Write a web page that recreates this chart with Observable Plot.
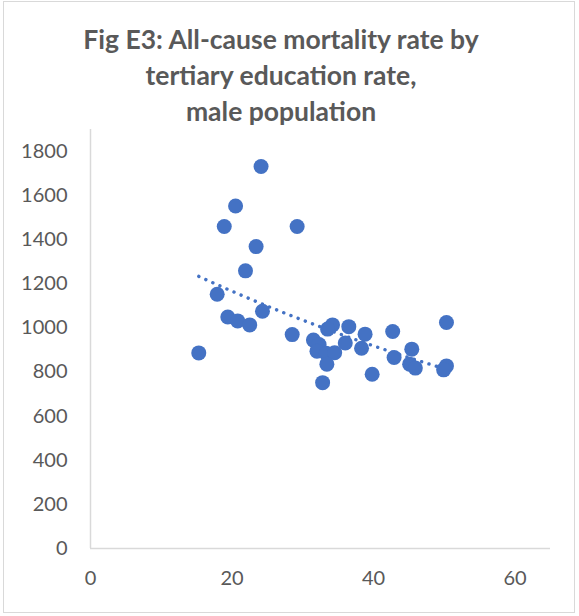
<!DOCTYPE html>
<html>
<head>
<meta charset="utf-8">
<script src="https://cdn.jsdelivr.net/npm/d3@7"></script>
<script src="https://cdn.jsdelivr.net/npm/@observablehq/plot@0.6"></script>
<style>
  html, body { margin: 0; padding: 0; background: #fff; }
  #wrap { position: relative; width: 579px; height: 616px; overflow: hidden; font-family: Lato, "Open Sans", sans-serif; }
  #frame { position: absolute; left: 3px; top: 1px; width: 572px; height: 612px; border: 1px solid #d9d9d9; box-sizing: border-box; pointer-events: none; }
  #title { position: absolute; left: 0; top: 21px; width: 562px; text-align: center; color: #595959; font-weight: 700; font-size: 26.5px; line-height: 36px; }
  #chart { position: absolute; left: 0; top: 0; }
</style>
</head>
<body>
<div id="wrap">
  <div id="chart"></div>
  <div id="title">Fig E3: All-cause mortality rate by<br>tertiary education rate,<br>male population</div>
  <div id="frame"></div>
</div>
<script>
// Tertiary education rate (%), male population
const educationRate = [15.3, 17.9, 18.9, 19.4, 20.5, 20.8, 21.9, 22.5, 23.4, 24.1, 24.3, 28.5, 29.2,
  31.5, 32.3, 32.0, 33.3, 34.5, 33.4, 32.8, 34.2, 33.5, 36.0, 36.5, 38.8, 38.3, 39.8,
  42.7, 42.9, 45.4, 45.1, 45.9, 50.3, 50.3, 49.9];
// All-cause mortality rate
const mortalityRate = [887, 1153, 1460, 1050, 1553, 1032, 1259, 1014, 1369, 1732, 1076, 970, 1460,
  945, 925, 895, 885, 888, 836, 752, 1014, 995, 932, 1006, 972, 908, 790,
  984, 866, 904, 836, 818, 1025, 828, 810];
const xTicks = [0, 20, 40, 60];
const yTicks = [0, 200, 400, 600, 800, 1000, 1200, 1400, 1600, 1800];

const points = educationRate.map((x, i) => ({x, y: mortalityRate[i]}));

// Exponential trendline (least squares on ln y), as Excel draws it
const mx = d3.mean(points, d => d.x);
const my = d3.mean(points, d => Math.log(d.y));
const b = d3.sum(points, d => (d.x - mx) * (Math.log(d.y) - my)) / d3.sum(points, d => (d.x - mx) ** 2);
const a = Math.exp(my - b * mx);
const [x0, x1] = d3.extent(educationRate);
const trend = d3.range(0, 41).map(k => { const x = x0 + (x1 - x0) * k / 40; return {x, y: a * Math.exp(b * x)}; });

const blue = "#4472C4";
const grid = "#d9d9d9";
const txt = "#595959";

const chart = Plot.plot({
  width: 579,
  height: 616,
  marginLeft: 90,
  marginRight: 29,
  marginTop: 129,
  marginBottom: 68,
  style: {fontFamily: "Lato, 'Open Sans', sans-serif", fontSize: "20px", color: txt, background: "transparent"},
  x: {domain: [0, 65], ticks: xTicks},
  y: {domain: [0, 1900], ticks: yTicks},
  marks: [
    Plot.ruleX([0], {stroke: grid, strokeWidth: 1.5}),
    Plot.ruleY([0], {stroke: grid, strokeWidth: 1.5}),
    Plot.axisY({ticks: yTicks, tickSize: 0, tickPadding: 23, tickFormat: d => String(d), label: null, fill: txt, fontSize: 20}),
    Plot.axisX({ticks: xTicks, tickSize: 0, tickPadding: 22, tickFormat: d => String(d), label: null, fill: txt, fontSize: 20}),
    Plot.line(trend, {x: "x", y: "y", stroke: blue, strokeWidth: 3.4, strokeLinecap: "round", strokeDasharray: "0.1,7.6"}),
    Plot.dot(points, {x: "x", y: "y", r: 7.5, fill: blue, stroke: "none"})
  ]
});
document.getElementById("chart").appendChild(chart);
</script>
</body>
</html>
